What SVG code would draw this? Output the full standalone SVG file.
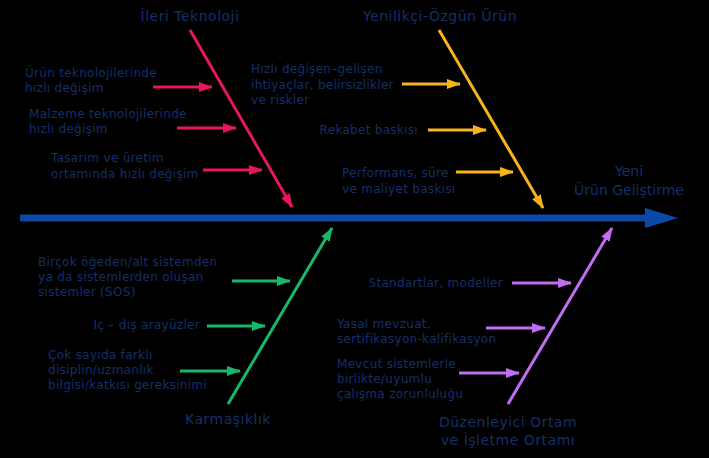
<svg xmlns="http://www.w3.org/2000/svg" width="709" height="458" viewBox="0 0 709 458">
<style>
text{font-family:"DejaVu Sans",Verdana,sans-serif;fill:#152F68}
.s{font-size:12px;letter-spacing:0.3px}
.h{font-size:14px;letter-spacing:0.5px}
.e{font-size:14px;letter-spacing:0}
.pk{stroke:#E8175D;stroke-width:3;fill:none}
.yl{stroke:#F6B31C;stroke-width:3;fill:none}
.gr{stroke:#18B86C;stroke-width:3;fill:none}
.pu{stroke:#C06EF0;stroke-width:3;fill:none}
</style>
<defs>
<marker id="mpk" viewBox="0 0 14 10" refX="13" refY="5" markerWidth="14" markerHeight="10" markerUnits="userSpaceOnUse" orient="auto"><path d="M0,0L14,5L0,10z" fill="#E8175D"/></marker>
<marker id="myl" viewBox="0 0 14 10" refX="13" refY="5" markerWidth="14" markerHeight="10" markerUnits="userSpaceOnUse" orient="auto"><path d="M0,0L14,5L0,10z" fill="#F6B31C"/></marker>
<marker id="mgr" viewBox="0 0 14 10" refX="13" refY="5" markerWidth="14" markerHeight="10" markerUnits="userSpaceOnUse" orient="auto"><path d="M0,0L14,5L0,10z" fill="#18B86C"/></marker>
<marker id="mpu" viewBox="0 0 14 10" refX="13" refY="5" markerWidth="14" markerHeight="10" markerUnits="userSpaceOnUse" orient="auto"><path d="M0,0L14,5L0,10z" fill="#C06EF0"/></marker>
</defs>
<rect width="709" height="458" fill="#000"/>
<g id="connectors">
<path d="M20,218H646" stroke="#0B48A8" stroke-width="7"/>
<path d="M645,208L678,218L645,228z" fill="#0B48A8"/>
<path class="pk" d="M190,30L292,207" marker-end="url(#mpk)"/>
<path class="pk" d="M153,87H212" marker-end="url(#mpk)"/>
<path class="pk" d="M177,128H236" marker-end="url(#mpk)"/>
<path class="pk" d="M203,170H262" marker-end="url(#mpk)"/>
<path class="yl" d="M439,30L543,208" marker-end="url(#myl)"/>
<path class="yl" d="M402,84H460" marker-end="url(#myl)"/>
<path class="yl" d="M428,130H486" marker-end="url(#myl)"/>
<path class="yl" d="M456,172H513" marker-end="url(#myl)"/>
<path class="gr" d="M228,404L332,228" marker-end="url(#mgr)"/>
<path class="gr" d="M232,281H290" marker-end="url(#mgr)"/>
<path class="gr" d="M207,326H265" marker-end="url(#mgr)"/>
<path class="gr" d="M180,371H240" marker-end="url(#mgr)"/>
<path class="pu" d="M508,404L612,228" marker-end="url(#mpu)"/>
<path class="pu" d="M512,283H571" marker-end="url(#mpu)"/>
<path class="pu" d="M486,328H545" marker-end="url(#mpu)"/>
<path class="pu" d="M459,373H519" marker-end="url(#mpu)"/>
</g>
<g id="effect">
<text class="e" x="629" y="176" text-anchor="middle">Yeni</text>
<text class="e" x="629" y="195" text-anchor="middle">Ürün Geliştirme</text>
</g>
<g id="ileri">
<text class="h" x="190" y="21" text-anchor="middle">İleri Teknoloji</text>
<text class="s" x="25" y="77">Ürün teknolojilerinde</text>
<text class="s" x="25" y="92">hızlı değişim</text>
<text class="s" x="29" y="118">Malzeme teknolojilerinde</text>
<text class="s" x="29" y="133">hızlı değişim</text>
<text class="s" x="51" y="162">Tasarım ve üretim</text>
<text class="s" x="51" y="178">ortamında hızlı değişim</text>
</g>
<g id="yenilikci">
<text class="h" x="440" y="21" text-anchor="middle">Yenilikçi-Özgün Ürün</text>
<text class="s" x="251" y="73">Hızlı değişen–gelişen</text>
<text class="s" x="251" y="89">ihtiyaçlar, belirsizlikler</text>
<text class="s" x="251" y="104">ve riskler</text>
<text class="s" x="418" y="134" text-anchor="end">Rekabet baskısı</text>
<text class="s" x="342" y="177">Performans, süre</text>
<text class="s" x="342" y="193">ve maliyet baskısı</text>
</g>
<g id="karmasiklik">
<text class="h" x="228" y="424" text-anchor="middle">Karmaşıklık</text>
<text class="s" x="38" y="266">Birçok öğeden/alt sistemden</text>
<text class="s" x="38" y="281">ya da sistemlerden oluşan</text>
<text class="s" x="38" y="296">sistemler (SOS)</text>
<text class="s" x="200" y="329" text-anchor="end">Iç – dış arayüzler</text>
<text class="s" x="48" y="359">Çok sayıda farklı</text>
<text class="s" x="48" y="374">disiplin/uzmanlık</text>
<text class="s" x="48" y="389">bilgisi/katkısı  gereksinimi</text>
</g>
<g id="duzenleyici">
<text class="h" x="508" y="427" text-anchor="middle">Düzenleyici Ortam</text>
<text class="h" x="508" y="445" text-anchor="middle">ve İşletme Ortamı</text>
<text class="s" x="503" y="287" text-anchor="end">Standartlar, modeller</text>
<text class="s" x="337" y="328">Yasal mevzuat,</text>
<text class="s" x="337" y="343">sertifikasyon-kalifikasyon</text>
<text class="s" x="337" y="368">Mevcut sistemlerle</text>
<text class="s" x="337" y="383">birlikte/uyumlu</text>
<text class="s" x="337" y="398">çalışma zorunluluğu</text>
</g>
</svg>
